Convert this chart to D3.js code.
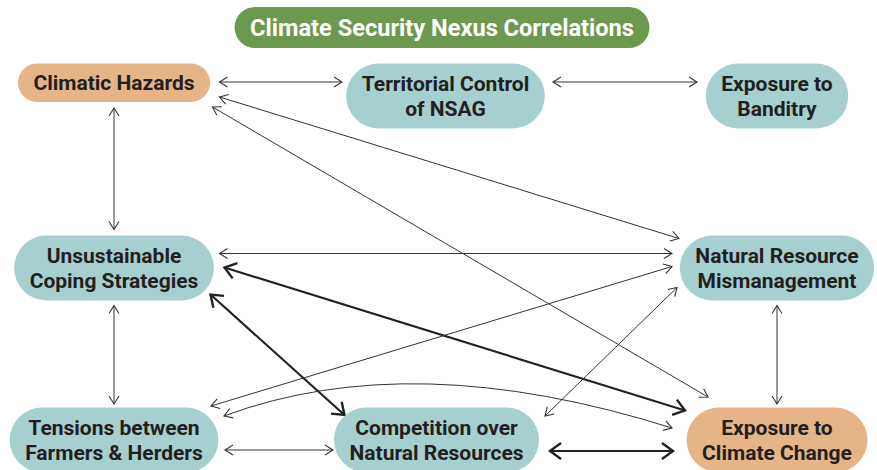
<!DOCTYPE html>
<html>
<head>
<meta charset="utf-8">
<script src="https://cdn.jsdelivr.net/npm/d3@7"></script>
<style>
  html, body { margin: 0; padding: 0; background: #fff; }
  svg { display: block; font-family: Roboto, "Noto Sans", sans-serif; }
</style>
</head>
<body>
<svg id="chart" width="877" height="470"></svg>
<script>
"use strict";

// title
const title = "Climate Security Nexus Correlations";

// nodes: label lines, kind, grid column / row
const nodeIds = ["CH", "TC", "EB", "UCS", "NRM", "TFH", "CNR", "ECC"];
const nodeLines = [
    ["Climatic Hazards"],
    ["Territorial Control", "of NSAG"],
    ["Exposure to", "Banditry"],
    ["Unsustainable", "Coping Strategies"],
    ["Natural Resource", "Mismanagement"],
    ["Tensions between", "Farmers & Herders"],
    ["Competition over", "Natural Resources"],
    ["Exposure to", "Climate Change"]
];
const nodeKind = ["hazard", "factor", "factor", "factor", "factor", "factor", "factor", "hazard"];
const nodeCol = [0, 1, 2, 0, 2, 0, 1, 2];
const nodeRow = [0, 0, 0, 1, 1, 2, 2, 2];

// links (all two-way): source, target, strength (1 = normal, 2 = strong)
const linkSource = ["CH", "TC", "CH", "CH", "CH", "UCS", "UCS", "UCS", "UCS", "TFH", "TFH", "TFH", "CNR", "CNR", "NRM"];
const linkTarget = ["TC", "EB", "UCS", "NRM", "ECC", "NRM", "ECC", "CNR", "TFH", "NRM", "ECC", "CNR", "NRM", "ECC", "ECC"];
const linkStrength = [1, 1, 1, 1, 1, 1, 2, 2, 1, 1, 1, 1, 1, 2, 1];
const linkCurved = [false, false, false, false, false, false, false, false, false, false, true, false, false, false, false];

// ---- layout (not data) ----
const colors = { hazard: "#e6b587", factor: "#a6cfcf", title: "#6b994d", text: "#231f20" };

// end-point offsets from each node's centre, [sx, sy, tx, ty]
const ports = [
    [105.5, -14, -103.5, -14],
    [107.5, -14, -80, -14],
    [0, 12, 0, -38.5],
    [105.5, 1, -98, -29.5],
    [98.5, 11, -69, -43],
    [105.5, -14.5, -105, -14.5],
    [110.5, -0.5, -92, -29.5],
    [96.5, 26.5, -92, -25],
    [0, 37.5, 0, -36],
    [97, -34, -105, -1.5],
    [110, -24, -105, -12],
    [111, 10, -103.5, 10],
    [108.5, -24, -100, 19.5],
    [113.5, 11, -104, 11],
    [0, 37.5, 0, -36]
];
const nudgeX = { CNR: -9 };

const x = d3.scaleLinear().domain([0, 2]).range([114, 777]);
const y = d3.scaleLinear().domain([0, 2]).range([96, 440]);

const svg = d3.select("#chart");
const fontSize = 21, titleSize = 23.6, lineH = 24.5, padX = 15.5;

// arrow markers
const defs = svg.append("defs");
[["thin", 8, 5, 1.1, "#333"], ["thick", 11, 8, 2.4, "#222"]].forEach(function (m) {
    defs.append("marker")
        .attr("id", "arrow-" + m[0])
        .attr("markerUnits", "userSpaceOnUse")
        .attr("viewBox", (-m[1] - 3) + " " + (-m[2] - 3) + " " + (m[1] + 6) + " " + (m[2] * 2 + 6))
        .attr("markerWidth", m[1] + 6)
        .attr("markerHeight", m[2] * 2 + 6)
        .attr("refX", 0).attr("refY", 0)
        .attr("orient", "auto-start-reverse")
        .append("path")
        .attr("d", "M" + (-m[1]) + "," + (-m[2]) + " L0,0 L" + (-m[1]) + "," + m[2])
        .attr("fill", "none")
        .attr("stroke", m[4])
        .attr("stroke-width", m[3]);
});

// node data with centres
const nodes = nodeIds.map(function (id, i) {
    return {
        id: id,
        lines: nodeLines[i],
        kind: nodeKind[i],
        cx: x(nodeCol[i]) + (nudgeX[id] || 0),
        cy: y(nodeRow[i])
    };
});
const byId = {};
nodes.forEach(function (n) { byId[n.id] = n; });

// links
const linkG = svg.append("g");
linkSource.forEach(function (s, i) {
    const a = byId[s], b = byId[linkTarget[i]], p = ports[i];
    const x1 = a.cx + p[0], y1 = a.cy + p[1], x2 = b.cx + p[2], y2 = b.cy + p[3];
    const thick = linkStrength[i] > 1;
    let d;
    if (linkCurved[i]) {
        const mx = x1 + (x2 - x1) * 0.42, my = Math.min(y1, y2) - 70;
        d = "M" + x1 + "," + y1 + " Q" + mx + "," + my + " " + x2 + "," + y2;
    } else {
        d = "M" + x1 + "," + y1 + " L" + x2 + "," + y2;
    }
    linkG.append("path")
        .attr("d", d)
        .attr("fill", "none")
        .attr("stroke", thick ? "#222" : "#333")
        .attr("stroke-width", thick ? 2.2 : 1)
        .attr("marker-start", "url(#arrow-" + (thick ? "thick" : "thin") + ")")
        .attr("marker-end", "url(#arrow-" + (thick ? "thick" : "thin") + ")");
});

// nodes
const nodeG = svg.append("g").selectAll("g")
    .data(nodes)
    .join("g");

nodeG.each(function (d) {
    const g = d3.select(this);
    const rect = g.append("rect");
    const n = d.lines.length;
    const h = n > 1 ? 65 : 38.5;
    // boxes are top-aligned within a row
    const top = d.cy - 32.5;
    const text = g.append("text")
        .attr("text-anchor", "middle")
        .attr("font-weight", 700)
        .attr("font-size", fontSize)
        .attr("fill", colors.text);
    const midY = top + h / 2;
    d.lines.forEach(function (line, j) {
        text.append("tspan")
            .attr("x", d.cx)
            .attr("y", midY + (j - (n - 1) / 2) * lineH)
            .attr("dy", "0.35em")
            .text(line);
    });
    const tw = d3.max(text.selectAll("tspan").nodes(), function (t) { return t.getComputedTextLength(); });
    const w = tw + padX * 2;
    rect.attr("x", d.cx - w / 2)
        .attr("y", top)
        .attr("width", w)
        .attr("height", h)
        .attr("rx", h / 2)
        .attr("fill", colors[d.kind]);
});

// title pill
const tg = svg.append("g");
const tRect = tg.append("rect");
const tText = tg.append("text")
    .attr("x", 442)
    .attr("y", 27.5)
    .attr("dy", "0.35em")
    .attr("text-anchor", "middle")
    .attr("font-weight", 700)
    .attr("font-size", titleSize)
    .attr("fill", "#fff")
    .text(title);
const ttw = tText.node().getComputedTextLength() + padX * 2;
tRect.attr("x", 442 - ttw / 2).attr("y", 7).attr("width", ttw).attr("height", 41)
    .attr("rx", 20.5).attr("fill", colors.title);
</script>
</body>
</html>
